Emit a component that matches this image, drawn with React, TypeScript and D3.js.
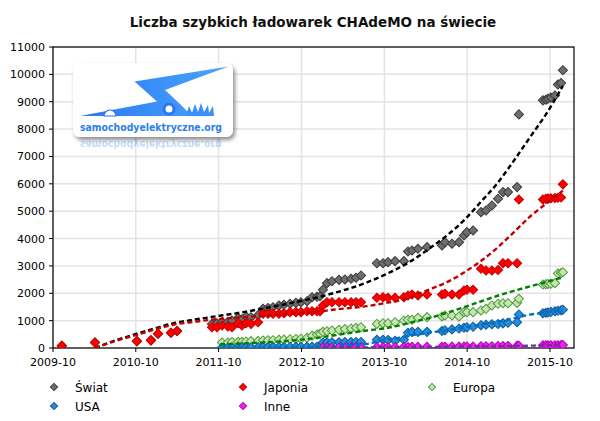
import React from 'react';
import * as d3 from 'd3';

// ---------- DATA ----------
const dates = [
  '2009-11-09','2010-04-04','2010-10-06','2010-12-07','2011-01-07','2011-03-05','2011-04-01',
  '2011-09-02','2011-09-24','2011-10-16','2011-11-11','2011-11-29','2011-12-26','2012-01-12','2012-01-30','2012-02-21','2012-03-23',
  '2012-04-14','2012-05-06','2012-05-28','2012-06-23','2012-07-15','2012-08-11','2012-09-06','2012-09-28','2012-10-25','2012-11-16','2012-12-08','2012-12-21',
  '2013-01-03','2013-01-21','2013-02-12','2013-03-15','2013-04-10','2013-05-07','2013-05-29','2013-06-20',
  '2013-08-29','2013-09-25','2013-10-17','2013-11-17','2013-12-26','2014-01-13','2014-01-31','2014-02-26','2014-04-07',
  '2014-06-12','2014-06-25','2014-07-26','2014-08-26','2014-09-17','2014-09-30','2014-10-27',
  '2014-12-01','2014-12-23','2015-01-18','2015-02-14','2015-03-08','2015-03-30','2015-05-09','2015-05-17',
  '2015-08-31','2015-09-13','2015-09-22','2015-10-05','2015-10-23','2015-11-05','2015-11-19','2015-11-27',
];

const swiat = [
  80,200,250,280,520,560,620,
  880,900,950,960,1000,1100,1050,1150,1120,1200,
  1430,1460,1490,1550,1580,1620,1650,1675,1711,1857,1870,1890,
  2130,2370,2440,2490,2505,2530,2566,2650,
  3100,3100,3137,3174,3174,3528,3565,3627,3686,
  3748,3869,3810,3869,4113,4234,4296,
  4965,5027,5210,5455,5697,5697,5880,8537,
  9050,9075,9110,9150,9230,9630,9680,10150,
];

const japonia = [
  80,200,250,280,520,560,620,
  760,760,820,790,760,907,822,907,883,944,
  1250,1250,1250,1250,1273,1310,1310,1310,1346,1346,1346,1346,
  1550,1675,1675,1675,1675,1675,1675,1675,
  1835,1857,1835,1835,1857,1920,1956,1920,1956,
  1956,1980,1956,1956,2102,2128,2128,
  2896,2834,2834,2850,3100,3100,3100,5430,
  5430,5450,5460,5470,5480,5490,5500,5980,
];

const europa = [
  null,null,null,null,null,null,null,
  null,null,200,200,215,225,225,240,250,255,
  274,280,285,300,305,322,330,340,373,446,494,520,
  592,614,640,665,690,713,738,761,
  880,907,907,944,1005,1030,1030,1104,1127,
  1152,1188,1188,1152,1310,1310,1310,
  1371,1433,1554,1616,1638,1638,1650,1798,
  2320,2330,2340,2350,2370,2720,2740,2770,
];

const usa = [
  null,null,null,null,null,null,null,
  null,null,20,20,22,22,25,25,28,30,
  30,30,32,35,35,38,40,40,42,45,45,48,
  200,205,210,210,215,215,220,220,
  300,300,290,260,300,560,590,590,590,
  620,650,680,710,740,760,775,
  833,850,870,880,900,920,944,1225,
  1270,1290,1300,1320,1340,1360,1380,1400,
];

const inne = [
  null,null,null,null,null,null,null,
  null,null,null,null,null,null,null,null,null,null,
  null,null,null,null,null,null,null,null,null,null,null,null,
  15,15,20,20,20,25,25,25,
  30,30,30,30,35,35,40,40,40,
  45,45,50,50,55,55,55,
  60,65,65,70,70,75,80,85,
  95,95,100,100,100,100,105,110,
];

// trend lines
const trendDates = [
  '2010-04-04','2010-07-01','2010-10-06','2010-12-25','2011-03-14','2011-06-19','2011-10-07','2012-01-25','2012-05-01','2012-09-24',
  '2013-01-03','2013-02-16','2013-05-02','2013-07-16','2013-10-04','2013-12-09','2014-02-04','2014-04-20','2014-07-04','2014-09-21',
  '2014-11-26','2015-02-09','2015-04-21','2015-07-05','2015-09-18','2015-11-27',
];
const trendSwiat = [0,270,520,720,900,1040,1180,1320,1470,1710,1900,2000,2180,2400,2680,2950,3220,3650,4113,4700,5300,6000,6800,7700,8600,9580];
const trendJaponia = [0,250,480,680,848,960,1066,1130,1190,1270,1350,1400,1460,1530,1640,1737,1900,2150,2406,2780,3150,3650,4200,4800,5300,5750];
const trendEuropa = [null,null,null,null,null,null,130,170,212,300,400,457,550,640,720,830,950,1100,1290,1500,1690,1900,2080,2250,2420,2580];
const trendUsa = [null,null,null,null,null,null,5,8,10,20,45,60,100,150,300,380,470,560,650,760,850,950,1080,1220,1300,1390];
const trendInne = [null,null,null,null,null,null,null,null,null,null,15,17,20,23,28,32,35,40,44,50,55,63,72,85,100,110];

const yTicks = [0,1000,2000,3000,4000,5000,6000,7000,8000,9000,10000,11000];
const xTickLabels = ['2009-10','2010-10','2011-10','2012-10','2013-10','2014-10','2015-10'];
const seriesNames = ['Świat','Japonia','Europa','USA','Inne'];
const title = 'Liczba szybkich ładowarek CHAdeMO na świecie';
const logoText = 'samochodyelektryczne.org';

// ---------- CHART ----------
const W = 600, H = 421;
const L = 53, R = 574, T = 47, B = 348;
const FONT = 'DejaVu Sans, Verdana, sans-serif';

const parse = d3.timeParse('%Y-%m-%d');

const styles = [
  { fill: '#6e6e6e', stroke: '#3c3c3c', trend: '#000000' },
  { fill: '#ff0000', stroke: '#c80000', trend: '#c00000' },
  { fill: '#c6e5b2', stroke: '#4f9c3a', trend: '#008000' },
  { fill: '#1f8fe0', stroke: '#165a9c', trend: '#0070c0' },
  { fill: '#ec22ec', stroke: '#b400b4', trend: '#7030a0' },
];

export default function App() {
  const x = d3.scaleTime()
    .domain([parse('2009-10-01')!, parse('2016-01-15')!])
    .range([L, R]);
  const y = d3.scaleLinear().domain([0, 11000]).range([B, T]);

  const seriesValues = [swiat, japonia, europa, usa, inne];
  const trendValues = [trendSwiat, trendJaponia, trendEuropa, trendUsa, trendInne];
  const pDates = dates.map(d => parse(d)!);
  const tDates = trendDates.map(d => parse(d)!);

  const line = d3.line<[Date, number | null]>()
    .defined(d => d[1] != null)
    .x(d => x(d[0]))
    .y(d => y(d[1] as number))
    .curve(d3.curveMonotoneX);

  const diamond = d3.symbol().type(d3.symbolSquare).size(42)()!;
  const diamondLegend = d3.symbol().type(d3.symbolSquare).size(26)()!;

  const legendPos = [[54, 387], [243, 387], [432, 387], [54, 406], [243, 406]];

  return (
    <svg width={W} height={H} style={{ position: 'absolute', left: 0, top: 0, background: '#fff' }}
      fontFamily={FONT}>
      <defs>
        <clipPath id="plot"><rect x={L} y={T - 6} width={R - L} height={B - T + 6} /></clipPath>
        <filter id="shadow" x="-20%" y="-20%" width="140%" height="150%">
          <feDropShadow dx="2" dy="3" stdDeviation="2" floodColor="#000" floodOpacity="0.45" />
        </filter>
        <linearGradient id="bolt" x1="0" y1="0" x2="1" y2="0">
          <stop offset="0" stopColor="#2a78f0" />
          <stop offset="1" stopColor="#4aa6ff" />
        </linearGradient>
        <linearGradient id="refl" x1="0" y1="0" x2="0" y2="1">
          <stop offset="0" stopColor="#ffffff" stopOpacity="0" />
          <stop offset="1" stopColor="#ffffff" stopOpacity="1" />
        </linearGradient>
      </defs>
      <rect x={0} y={0} width={W} height={H} fill="#fff" />

      {/* title */}
      <text x={313} y={27} textAnchor="middle" fontWeight="bold" fontSize={13.5} fill="#111">{title}</text>

      {/* grid */}
      {yTicks.map(t => (
        <line key={'gy' + t} x1={L} x2={R} y1={y(t)} y2={y(t)} stroke="#e4e4e4" strokeWidth={1.5} />
      ))}
      {xTickLabels.map(t => {
        const xv = x(parse(t + '-01')!);
        return <line key={'gx' + t} x1={xv} x2={xv} y1={T} y2={B} stroke="#e4e4e4" strokeWidth={1.5} />;
      })}

      {/* logo */}
      <g>
        <rect x={73} y={63} width={160} height={74} rx={7} fill="#fff" filter="url(#shadow)" />
        <polygon points="80,116 157,101.5 134.5,81.5 228.5,66.5 165,90 180,104 187,111 213,116" fill="url(#bolt)" />
        <path d="M104,116 A6,6 0 0 1 116,116 Z" fill="#fff" stroke="#2a78f0" strokeWidth={1.2} />
        <circle cx={169} cy={109} r={6.5} fill="#2a78f0" />
        <circle cx={169} cy={109} r={3.5} fill="#fff" />
        <path d="M186,116 L189,106 L192,113 L195,104 L198,112 L201,103 L204,112 L208,105 L209,113 L213,106 L214,116 Z" fill="#3a8ff8" />
        <text x={80} y={130.5} fontWeight="bold" fontSize={11} fill="#2d80ea" textLength={142} lengthAdjust="spacingAndGlyphs">{logoText}</text>
        <g transform="translate(0,271) scale(1,-1)" opacity={0.28}>
          <text x={80} y={130.5} fontWeight="bold" fontSize={11} fill="#2d80ea" textLength={142} lengthAdjust="spacingAndGlyphs">{logoText}</text>
        </g>
      </g>

      {/* axes frame */}
      <rect x={L} y={T} width={R - L} height={B - T} fill="none" stroke="#000" strokeWidth={1.2} />
      {yTicks.map(t => (
        <g key={'ty' + t}>
          <line x1={L - 4} x2={L} y1={y(t)} y2={y(t)} stroke="#000" />
          <text x={45} y={y(t) + 4} textAnchor="end" fontSize={11} fill="#000">{t}</text>
        </g>
      ))}
      {xTickLabels.map(t => {
        const xv = x(parse(t + '-01')!);
        return (
          <g key={'tx' + t}>
            <line x1={xv} x2={xv} y1={B} y2={B + 4} stroke="#000" />
            <text x={xv} y={366} textAnchor="middle" fontSize={11} fill="#000">{t}</text>
          </g>
        );
      })}

      {/* markers */}
      <g clipPath="url(#plot)">
        {seriesValues.map((vals, si) => (
          <g key={'s' + si}>
            {vals.map((v, i) => v == null ? null : (
              <path key={i} d={diamond}
                transform={`translate(${x(pDates[i])},${y(v)}) rotate(45)`}
                fill={styles[si].fill} stroke={styles[si].stroke} strokeWidth={1} />
            ))}
          </g>
        ))}
        {trendValues.map((vals, si) => (
          <path key={'t' + si}
            d={line(tDates.map((d, i) => [d, vals[i]] as [Date, number | null])) || ''}
            fill="none" stroke={styles[si].trend} strokeWidth={2.4} strokeDasharray="5,3" />
        ))}
      </g>

      {/* legend */}
      {seriesNames.map((n, i) => (
        <g key={'lg' + i} transform={`translate(${legendPos[i][0]},${legendPos[i][1]})`}>
          <path d={diamondLegend} transform="rotate(45)" fill={styles[i].fill} stroke={styles[i].stroke} strokeWidth={1} />
          <text x={21} y={5} fontSize={12} fill="#000">{n}</text>
        </g>
      ))}
    </svg>
  );
}
